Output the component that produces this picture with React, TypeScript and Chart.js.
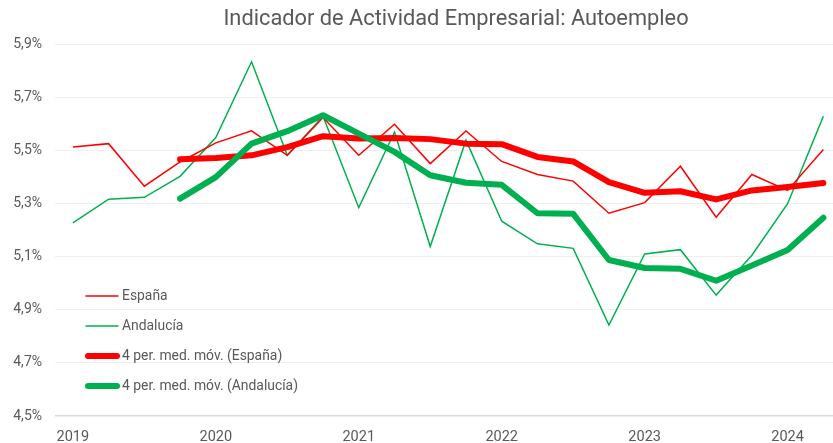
import React, { useEffect, useRef } from "react";
import { Chart, registerables } from "chart.js";

Chart.register(...registerables);

const years = ["2019", "2020", "2021", "2022", "2023", "2024"];
const quarters = [
  "2019T1", "2019T2", "2019T3", "2019T4",
  "2020T1", "2020T2", "2020T3", "2020T4",
  "2021T1", "2021T2", "2021T3", "2021T4",
  "2022T1", "2022T2", "2022T3", "2022T4",
  "2023T1", "2023T2", "2023T3", "2023T4",
  "2024T1", "2024T2",
];

const espana = [
  5.512, 5.525, 5.365, 5.456, 5.528, 5.573, 5.481, 5.623, 5.481, 5.598,
  5.45, 5.573, 5.458, 5.409, 5.384, 5.263, 5.303, 5.44, 5.248, 5.409,
  5.349, 5.503,
];
const andalucia = [
  5.227, 5.316, 5.323, 5.402, 5.548, 5.833, 5.481, 5.628, 5.284, 5.569,
  5.138, 5.538, 5.233, 5.148, 5.131, 4.842, 5.11, 5.126, 4.955, 5.105,
  5.299, 5.628,
];
const mmEspana = [
  null, null, null, 5.466, 5.471, 5.481, 5.512, 5.553, 5.544, 5.546,
  5.542, 5.525, 5.523, 5.475, 5.458, 5.38, 5.34, 5.346, 5.315, 5.349,
  5.362, 5.377,
];
const mmAndalucia = [
  null, null, null, 5.318, 5.399, 5.525, 5.572, 5.632, 5.563, 5.494,
  5.406, 5.378, 5.37, 5.263, 5.261, 5.087, 5.057, 5.054, 5.009, 5.066,
  5.125, 5.246,
];

const seriesLabels = [
  "España",
  "Andalucía",
  "4 per. med. móv. (España)",
  "4 per. med. móv. (Andalucía)",
];
const title = "Indicador de Actividad Empresarial: Autoempleo";

const RED = "#FF0000";
const GREEN = "#00B050";
const TEXT = "#595959";
const FONT = "Roboto, 'Noto Sans', sans-serif";

const toPoints = (arr: (number | null)[]) =>
  arr.map((v, i) => ({ x: i, y: v }));

export default function App() {
  const ref = useRef<HTMLCanvasElement | null>(null);

  useEffect(() => {
    if (!ref.current) return;
    const overlay = {
      id: "overlay",
      afterDraw(chart: any) {
        const ctx = chart.ctx;
        ctx.save();
        ctx.fillStyle = TEXT;
        ctx.font = `21.8px ${FONT}`;
        ctx.textAlign = "center";
        ctx.textBaseline = "middle";
        ctx.fillText(title, 456, 20);
        // legend
        ctx.font = `13.9px ${FONT}`;
        ctx.textAlign = "left";
        const items = chart.data.datasets;
        items.forEach((ds: any, i: number) => {
          const y = 296 + i * 30;
          ctx.strokeStyle = ds.borderColor;
          ctx.lineWidth = ds.borderWidth;
          ctx.lineCap = "round";
          ctx.beginPath();
          ctx.moveTo(ds.borderWidth > 2 ? 88 : 86, y);
          ctx.lineTo(ds.borderWidth > 2 ? 117 : 118, y);
          ctx.stroke();
          ctx.fillStyle = TEXT;
          ctx.fillText(ds.label, 122, y + 0.5);
        });
        ctx.restore();
      },
    };
    const chart = new Chart(ref.current, {
      type: "line",
      data: {
        datasets: [
          {
            label: seriesLabels[0],
            data: toPoints(espana),
            borderColor: RED,
            backgroundColor: RED,
            borderWidth: 1.5,
            pointRadius: 0,
            order: 3,
          },
          {
            label: seriesLabels[1],
            data: toPoints(andalucia),
            borderColor: GREEN,
            backgroundColor: GREEN,
            borderWidth: 1.5,
            pointRadius: 0,
            order: 4,
          },
          {
            label: seriesLabels[2],
            data: toPoints(mmEspana),
            borderColor: RED,
            backgroundColor: RED,
            borderWidth: 6,
            pointRadius: 0,
            borderCapStyle: "round",
            borderJoinStyle: "round",
            order: 2,
          },
          {
            label: seriesLabels[3],
            data: toPoints(mmAndalucia),
            borderColor: GREEN,
            backgroundColor: GREEN,
            borderWidth: 6,
            pointRadius: 0,
            borderCapStyle: "round",
            borderJoinStyle: "round",
            order: 1,
          },
        ],
      },
      options: {
        animation: false,
        responsive: false,
        maintainAspectRatio: false,
        layout: { padding: { top: 44, left: 0, right: 0, bottom: 0 } },
        plugins: {
          legend: { display: false },
          title: { display: false },
          tooltip: { enabled: false },
        },
        scales: {
          x: {
            type: "linear",
            min: -0.5,
            max: 21.27,
            grid: { display: false, drawTicks: false },
            border: { display: false },
            afterBuildTicks: (scale: any) => {
              scale.ticks = years.map((_, i) => ({ value: i * 4 }));
            },
            ticks: {
              color: TEXT,
              font: { family: FONT, size: 14.5 },
              padding: 13,
              maxRotation: 0,
              autoSkip: false,
              callback: (v: any) => years[Math.round(Number(v) / 4)] ?? "",
            },
            afterFit: (scale: any) => {
              scale.height = 27;
            },
          },
          y: {
            min: 4.5,
            max: 5.9,
            grid: {
              color: (c: any) => (c.tick && c.tick.value === 4.5 ? "#d9d9d9" : "#efefef"),
              lineWidth: (c: any) => (c.tick && c.tick.value === 4.5 ? 1.5 : 1),
              drawTicks: false,
            },
            border: { display: false },
            ticks: {
              stepSize: 0.2,
              color: TEXT,
              font: { family: FONT, size: 14 },
              padding: 13,
              callback: (v: any) => Number(v).toFixed(1).replace(".", ",") + "%",
            },
            afterFit: (scale: any) => {
              scale.width = 55;
            },
          },
        },
      },
      plugins: [overlay],
    });
    return () => chart.destroy();
  }, []);

  return (
    <div style={{ position: "fixed", left: 0, top: 0, width: 833, height: 443, background: "#fff" }}>
      <canvas ref={ref} width={833} height={443} style={{ width: 833, height: 443 }} />
    </div>
  );
}
